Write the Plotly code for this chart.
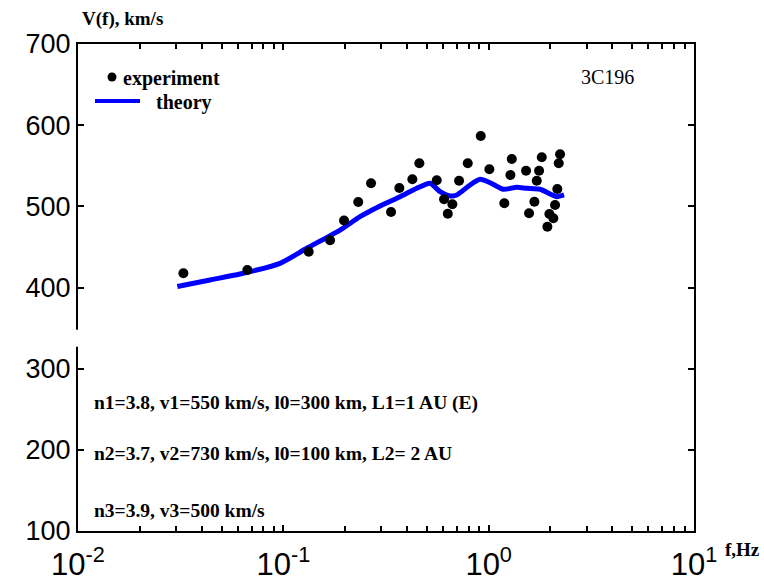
import plotly.graph_objects as go

# ---- data ----
exp_f = [0.0326, 0.0668, 0.1329, 0.1689, 0.1975, 0.2317, 0.2674, 0.3346, 0.3673, 0.4250,
         0.4597, 0.5587, 0.6063, 0.6657, 0.6323, 0.7176, 0.7909, 0.9152, 1.008, 1.192,
         1.296, 1.276, 1.521, 1.814, 1.760, 1.715, 1.670, 1.573, 2.227, 2.194,
         2.160, 2.105, 1.976, 2.066, 1.932]
exp_v = [417.5, 421.6, 444.1, 458.2, 482.6, 505.3, 528.4, 493.0, 522.6, 533.3,
         553.0, 532.1, 508.7, 502.5, 490.9, 531.6, 553.0, 586.7, 545.6, 503.7,
         558.3, 538.6, 543.9, 560.4, 543.9, 531.6, 505.7, 491.4, 564.1, 553.0,
         521.4, 501.6, 490.6, 485.3, 474.9]

th_f = [0.03047, 0.04395, 0.0615, 0.0964, 0.130, 0.1889, 0.2363, 0.2958, 0.3702, 0.4465,
        0.5183, 0.5799, 0.6486, 0.6993, 0.8117, 0.908, 1.016, 1.179, 1.370, 1.533,
        1.780, 1.991, 2.146, 2.329]
th_v = [401.2, 409.3, 416.6, 429.8, 448.3, 470.8, 487.2, 500.4, 511.9, 522.2,
        528.4, 518.0, 512.7, 514.0, 526.3, 533.3, 529.1, 521.0, 523.5, 522.2,
        521.0, 515.2, 511.9, 514.0]

x_tickvals = [0.01, 0.1, 1, 10]
x_ticktext = ["10<sup>-2</sup>", "10<sup>-1</sup>", "10<sup>0</sup>", "10<sup>1</sup>"]
x_minorvals = [m * d for d in (0.01, 0.1, 1) for m in range(2, 10)]
y_tickvals = [100, 200, 300, 400, 500, 600, 700]

params = ["n1=3.8, v1=550 km/s, l0=300 km, L1=1 AU (E)",
          "n2=3.7, v2=730 km/s, l0=100 km, L2= 2 AU",
          "n3=3.9, v3=500 km/s"]

# ---- layout geometry ----
W, H = 764, 579
L, R, T, B = 78, 694, 44, 531


def px(x):
    return (x - L) / (R - L)


def py(y):
    return (B - y) / (B - T)


SERIF = "Liberation Serif, Times New Roman, serif"
SANS = "Liberation Sans, Arial, sans-serif"

fig = go.Figure()
fig.add_trace(go.Scatter(x=th_f, y=th_v, mode="lines", name="theory",
                         line=dict(color="#0000ff", width=5, shape="spline", smoothing=0.6),
                         showlegend=False))
fig.add_trace(go.Scatter(x=exp_f, y=exp_v, mode="markers", name="experiment",
                         marker=dict(color="black", size=10), showlegend=False))

axis_common = dict(showline=True, linecolor="black", linewidth=2, mirror="ticks",
                   ticks="inside", tickcolor="black", tickwidth=1.5, ticklen=6,
                   showgrid=False, zeroline=False, automargin=False)

fig.update_xaxes(type="log", range=[-2, 1], tickmode="array",
                 tickvals=x_tickvals, ticktext=x_ticktext,
                 tickfont=dict(family=SANS, size=31, color="black"),
                 ticklabelstandoff=5,
                 minor=dict(tickmode="array", tickvals=x_minorvals, ticks="inside",
                            ticklen=5, tickcolor="black", tickwidth=1.5, showgrid=False),
                 **axis_common)
fig.update_yaxes(range=[100, 700], tickmode="array", tickvals=y_tickvals,
                 tickfont=dict(family=SANS, size=27, color="black"),
                 **axis_common)

annotations = []
annotations.append(dict(x=px(80), y=py(19), xref="paper", yref="paper", text="<b>V(f), km/s</b>",
                        showarrow=False, xanchor="left", yanchor="middle",
                        font=dict(family=SERIF, size=19, color="black")))
annotations.append(dict(x=px(723), y=py(549), xref="paper", yref="paper", text="<b>f,Hz</b>",
                        showarrow=False, xanchor="left", yanchor="middle",
                        font=dict(family=SERIF, size=19, color="black")))
annotations.append(dict(x=px(121), y=py(78), xref="paper", yref="paper", text="<b>experiment</b>",
                        showarrow=False, xanchor="left", yanchor="middle",
                        font=dict(family=SERIF, size=20, color="black")))
annotations.append(dict(x=px(154), y=py(103), xref="paper", yref="paper", text="<b>theory</b>",
                        showarrow=False, xanchor="left", yanchor="middle",
                        font=dict(family=SERIF, size=20, color="black")))
annotations.append(dict(x=px(579), y=py(77), xref="paper", yref="paper", text="3C196",
                        showarrow=False, xanchor="left", yanchor="middle",
                        font=dict(family=SERIF, size=20, color="black")))
for txt, yy in zip(params, [403, 454, 510]):
    annotations.append(dict(x=px(92), y=py(yy), xref="paper", yref="paper", text="<b>" + txt + "</b>",
                            showarrow=False, xanchor="left", yanchor="middle",
                            font=dict(family=SERIF, size=19.5, color="black")))

shapes = [
    dict(type="circle", xref="paper", yref="paper",
         x0=px(107.5), x1=px(116.5), y0=py(81.5), y1=py(72.5),
         fillcolor="black", line=dict(width=0)),
    dict(type="line", xref="paper", yref="paper",
         x0=px(95), x1=px(140), y0=py(101), y1=py(101),
         line=dict(color="#0000ff", width=4)),
    dict(type="rect", xref="paper", yref="y", x0=px(74), x1=px(83), y0=327, y1=348,
         fillcolor="white", line=dict(width=0), layer="above"),
]

fig.update_layout(width=W, height=H, margin=dict(l=L, r=W - R, t=T, b=H - B),
                  paper_bgcolor="white", plot_bgcolor="white",
                  annotations=annotations, shapes=shapes, showlegend=False)

fig.write_html("out.html")
